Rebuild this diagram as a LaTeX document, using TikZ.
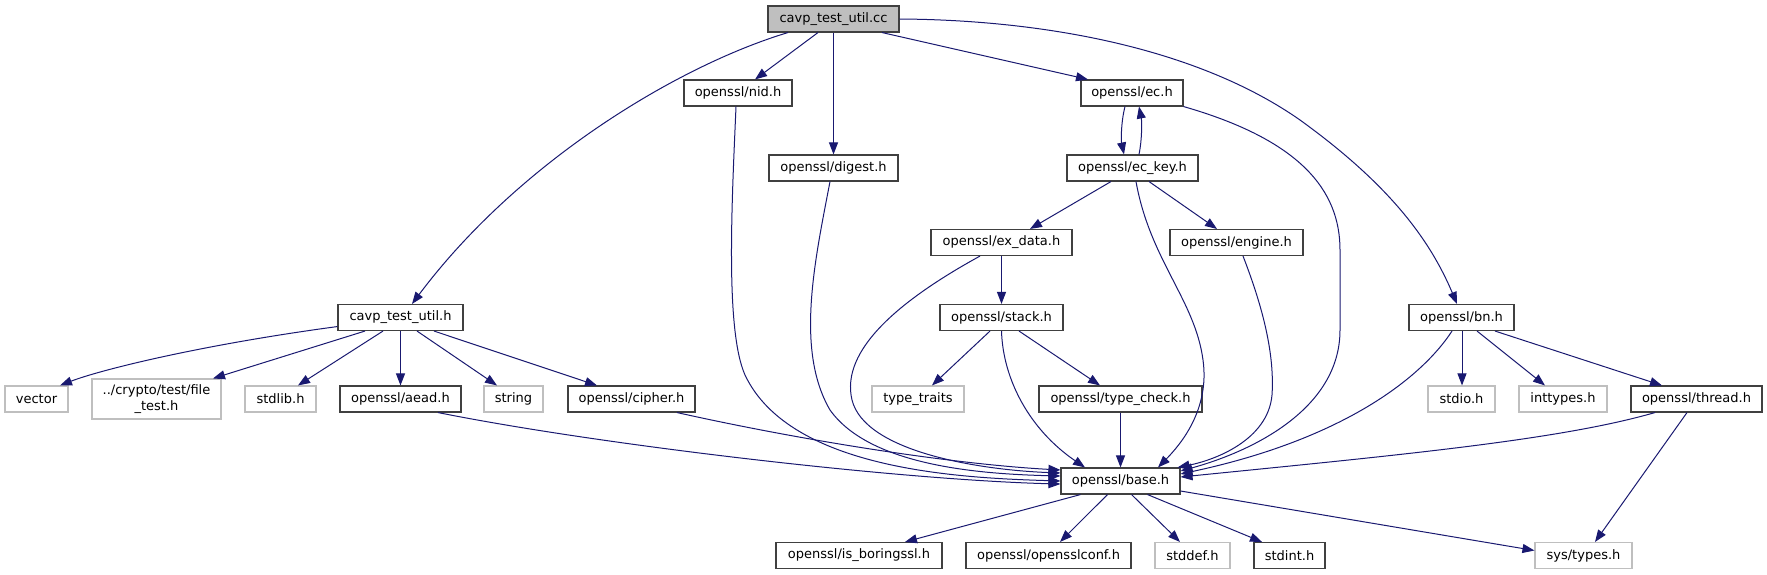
\documentclass[tikz,border=0pt]{standalone}
\usepackage{fontspec}
\setmainfont{DejaVu Sans}
\usetikzlibrary{arrows.meta}
\definecolor{edgeblue}{HTML}{191970}
\definecolor{greyS}{HTML}{BFBFBF}
\definecolor{boxline}{HTML}{404040}
\tikzset{
  box/.style={draw=boxline, line width=1.1pt, minimum height=26pt, inner sep=0pt, font=\fontsize{13}{15.5}\selectfont, text=black},
  ext/.style={box, draw=greyS},
  edge/.style={draw=edgeblue, line width=1pt, -{Triangle[length=12pt,width=9pt]}}
}
\begin{document}
\begin{tikzpicture}[x=1pt,y=-1pt]
\useasboundingbox (0,0) rectangle (1767,575);
% nodes
\node[box, fill=greyS, minimum width=131pt] (cc) at (833.5,19) {cavp\_test\_util.cc};
\node[box, minimum width=108pt] (nid) at (738,93) {openssl/nid.h};
\node[box, minimum width=102pt] (ec) at (1132,93) {openssl/ec.h};
\node[box, minimum width=129pt] (digest) at (833.5,168) {openssl/digest.h};
\node[box, minimum width=131pt] (eckey) at (1132.5,168) {openssl/ec\_key.h};
\node[box, minimum width=141pt] (exdata) at (1001.5,242.5) {openssl/ex\_data.h};
\node[box, minimum width=133pt] (engine) at (1236.5,242.5) {openssl/engine.h};
\node[box, minimum width=125pt] (cavph) at (400.5,317.5) {cavp\_test\_util.h};
\node[box, minimum width=123pt] (stack) at (1001.5,317.5) {openssl/stack.h};
\node[box, minimum width=105pt] (bn) at (1461.5,317.5) {openssl/bn.h};
\node[ext, minimum width=63pt] (vector) at (36.5,399) {vector};
\node[ext, minimum width=129pt, minimum height=40pt, align=center] (filetest) at (156.5,399) {../crypto/test/file\\\_test.h};
\node[ext, minimum width=71pt] (stdlib) at (280.5,399) {stdlib.h};
\node[box, minimum width=121pt] (aead) at (400.5,399) {openssl/aead.h};
\node[ext, minimum width=59pt] (string) at (513.5,399) {string};
\node[box, minimum width=127pt] (cipher) at (631.5,399) {openssl/cipher.h};
\node[ext, minimum width=92pt] (typetraits) at (918,399) {type\_traits};
\node[box, minimum width=163pt] (typecheck) at (1120.5,399) {openssl/type\_check.h};
\node[ext, minimum width=67pt] (stdio) at (1461.5,399) {stdio.h};
\node[ext, minimum width=88pt] (inttypes) at (1563,399) {inttypes.h};
\node[box, minimum width=131pt] (thread) at (1696.5,399) {openssl/thread.h};
\node[box, minimum width=119pt] (base) at (1120.5,481) {openssl/base.h};
\node[box, minimum width=166pt] (isbssl) at (859,555.5) {openssl/is\_boringssl.h};
\node[box, minimum width=165pt] (conf) at (1048.5,555.5) {openssl/opensslconf.h};
\node[ext, minimum width=75pt] (stddef) at (1192.5,555.5) {stddef.h};
\node[box, minimum width=71pt] (stdint) at (1289.5,555.5) {stdint.h};
\node[ext, minimum width=97pt] (systypes) at (1583.5,555.5) {sys/types.h};
% edges from cc
\draw[edge] ([xshift=-45.5pt]cc.south) .. controls (680,65) and (520,160) .. ([xshift=11.5pt]cavph.north);
\draw[edge] ([xshift=-15.5pt]cc.south) -- ([xshift=17pt]nid.north);
\draw[edge] (cc.south) -- (digest.north);
\draw[edge] ([xshift=48.5pt]cc.south) -- ([xshift=-44pt]ec.north);
\draw[edge] (cc.east) .. controls (1050,20) and (1200,50) .. (1300,120) .. controls (1390,185) and (1430,240) .. ([xshift=-4.5pt]bn.north);
% to base from left
\draw[edge] ([xshift=-2pt]nid.south) .. controls (732,200) and (725,330) .. (745,375) .. controls (790,470) and (960,478) .. ([yshift=-0pt]base.west);
\draw[edge] ([xshift=-3.5pt]digest.south) .. controls (815,260) and (795,350) .. (830,410) .. controls (870,466) and (980,474) .. ([yshift=5pt]base.west);
\draw[edge] ([xshift=-21.5pt]exdata.south) .. controls (900,300) and (840,350) .. (852,400) .. controls (865,452) and (980,470) .. ([yshift=8pt]base.west);
\draw[edge] ([xshift=45.5pt]cipher.south) .. controls (800,440) and (950,464) .. ([yshift=11pt]base.west);
\draw[edge] ([xshift=37.5pt]aead.south) .. controls (600,445) and (900,480) .. ([yshift=-3pt]base.west);
% to base from top/right
\draw[edge] (stack.south) .. controls (1003,380) and (1030,430) .. ([xshift=-35.5pt]base.north);
\draw[edge] (typecheck.south) -- (base.north);
\draw[edge] ([xshift=3.5pt]eckey.south) .. controls (1150,260) and (1195,300) .. (1203,360) .. controls (1210,410) and (1180,445) .. ([xshift=37.5pt]base.north);
\draw[edge] ([xshift=6.5pt]engine.south) .. controls (1260,300) and (1275,350) .. (1272,395) .. controls (1268,440) and (1215,460) .. ([xshift=-3pt]base.north east);
\draw[edge] (ec.south east) .. controls (1300,140) and (1340,190) .. (1340,250) -- (1340,330) .. controls (1340,410) and (1250,452) .. ([yshift=10pt]base.east);
\draw[edge] ([xshift=-9.5pt]bn.south) .. controls (1420,380) and (1340,440) .. ([yshift=7pt]base.east);
\draw[edge] ([xshift=-41.5pt]thread.south) .. controls (1560,440) and (1400,455) .. ([yshift=4pt]base.east);
% from base
\draw[edge] ([xshift=-40pt]base.south) -- ([xshift=46pt]isbssl.north);
\draw[edge] ([xshift=-13pt]base.south) -- ([xshift=11.5pt]conf.north);
\draw[edge] ([xshift=11pt]base.south) -- ([xshift=-12.5pt]stddef.north);
\draw[edge] ([xshift=27pt]base.south) -- ([xshift=-27.5pt]stdint.north);
\draw[edge] ([yshift=-10pt]base.east) -- ([yshift=5pt]systypes.west);
\draw[edge] ([xshift=-9.5pt]thread.south) -- ([xshift=11.5pt]systypes.north);
% from cavp_test_util.h
\draw[edge] ([yshift=4.5pt]cavph.south west) .. controls (200,345) and (100,370) .. ([xshift=23.5pt]vector.north);
\draw[edge] ([xshift=-35.5pt]cavph.south) -- ([xshift=56.5pt]filetest.north);
\draw[edge] ([xshift=-17.5pt]cavph.south) -- ([xshift=17.5pt]stdlib.north);
\draw[edge] (cavph.south) -- (aead.north);
\draw[edge] ([xshift=16.5pt]cavph.south) -- ([xshift=-16.5pt]string.north);
\draw[edge] ([xshift=33.5pt]cavph.south) -- ([xshift=-34.5pt]cipher.north);
% ec / ec_key
\draw[edge] ([xshift=-7pt]ec.south) .. controls (1121,122) and (1121,140) .. ([xshift=-8.5pt]eckey.north);
\draw[edge] ([xshift=6.5pt]eckey.north) .. controls (1142,140) and (1142,122) .. ([xshift=7pt]ec.south);
\draw[edge] ([xshift=-21.5pt]eckey.south) -- ([xshift=28.5pt]exdata.north);
\draw[edge] ([xshift=16.5pt]eckey.south) -- ([xshift=-19.5pt]engine.north);
\draw[edge] (exdata.south) -- (stack.north);
\draw[edge] ([xshift=-11.5pt]stack.south) -- ([xshift=14pt]typetraits.north);
\draw[edge] ([xshift=17.5pt]stack.south) -- ([xshift=-20.5pt]typecheck.north);
% bn
\draw[edge] ([xshift=0.5pt]bn.south) -- ([xshift=0.5pt]stdio.north);
\draw[edge] ([xshift=15.5pt]bn.south) -- ([xshift=-18pt]inttypes.north);
\draw[edge] ([xshift=33.5pt]bn.south) -- ([xshift=-34.5pt]thread.north);
\end{tikzpicture}
\end{document}
